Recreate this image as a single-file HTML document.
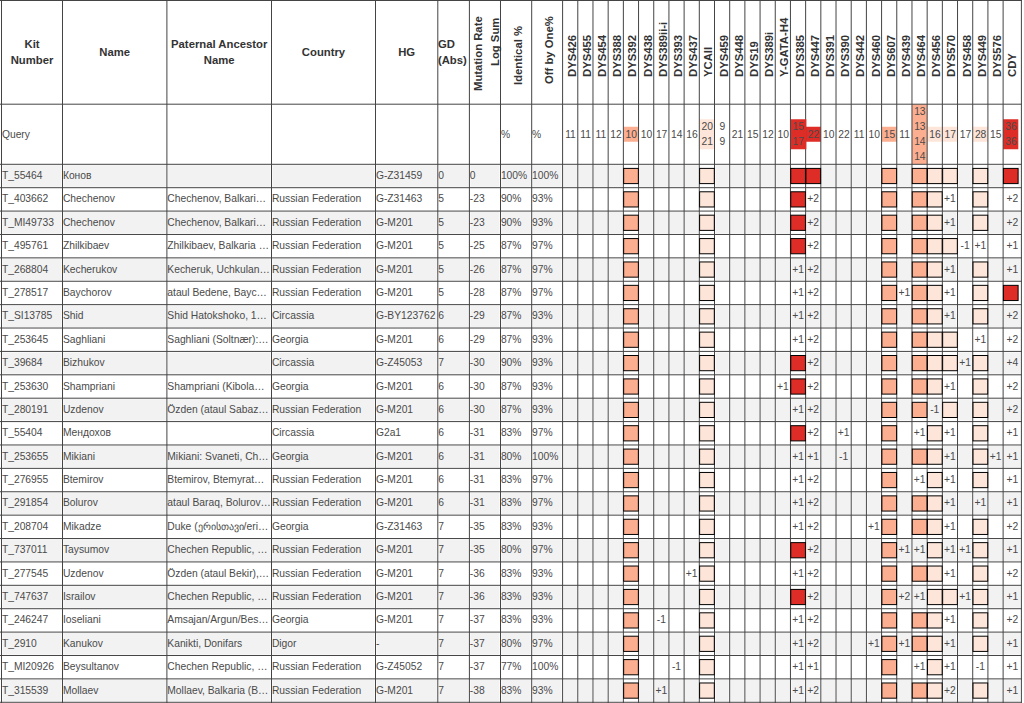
<!DOCTYPE html>
<html lang="en"><head><meta charset="utf-8"><title>Y-DNA STR match table</title>
<style>
html,body{margin:0;padding:0;background:#fff;}
body{width:1024px;height:703px;overflow:hidden;position:relative;font-family:"Liberation Sans",sans-serif;color:#333;}
svg{position:absolute;left:0;top:0;}
.c,.h,.r,.q{position:absolute;white-space:nowrap;}
.c{font-size:10.3px;overflow:visible;color:#4a4a4a;}
.b{text-align:left;}
.m{text-align:center;}
.q{font-size:10.3px;line-height:15.0px;text-align:center;color:#4a4a4a;}
.h{font-size:11.3px;line-height:16.5px;font-weight:bold;box-sizing:border-box;}
.r{font-size:11.3px;line-height:16.5px;height:16.5px;font-weight:bold;transform-origin:0 0;transform:rotate(-90deg);}
</style></head>
<body>
<svg width="1024" height="703" viewBox="0 0 1024 703">
<rect x="1.5" y="164.3" width="1019.9" height="23.39" fill="#f2f2f2"/>
<rect x="1.5" y="211.08" width="1019.9" height="23.39" fill="#f2f2f2"/>
<rect x="1.5" y="257.86" width="1019.9" height="23.39" fill="#f2f2f2"/>
<rect x="1.5" y="304.64" width="1019.9" height="23.39" fill="#f2f2f2"/>
<rect x="1.5" y="351.42" width="1019.9" height="23.39" fill="#f2f2f2"/>
<rect x="1.5" y="398.2" width="1019.9" height="23.39" fill="#f2f2f2"/>
<rect x="1.5" y="444.98" width="1019.9" height="23.39" fill="#f2f2f2"/>
<rect x="1.5" y="491.76" width="1019.9" height="23.39" fill="#f2f2f2"/>
<rect x="1.5" y="538.54" width="1019.9" height="23.39" fill="#f2f2f2"/>
<rect x="1.5" y="585.32" width="1019.9" height="23.39" fill="#f2f2f2"/>
<rect x="1.5" y="632.1" width="1019.9" height="23.39" fill="#f2f2f2"/>
<rect x="1.5" y="678.88" width="1019.9" height="23.39" fill="#f2f2f2"/>
<g stroke="#fff" stroke-width="2.0" fill="none">
<line x1="1.5" y1="164.3" x2="1.5" y2="703"/>
<line x1="62.5" y1="164.3" x2="62.5" y2="703"/>
<line x1="166.9" y1="164.3" x2="166.9" y2="703"/>
<line x1="271.5" y1="164.3" x2="271.5" y2="703"/>
<line x1="375.5" y1="164.3" x2="375.5" y2="703"/>
<line x1="437.8" y1="164.3" x2="437.8" y2="703"/>
<line x1="469.4" y1="164.3" x2="469.4" y2="703"/>
<line x1="500.5" y1="164.3" x2="500.5" y2="703"/>
<line x1="531.7" y1="164.3" x2="531.7" y2="703"/>
<line x1="562.6" y1="164.3" x2="562.6" y2="703"/>
<line x1="577.79" y1="164.3" x2="577.79" y2="703"/>
<line x1="592.98" y1="164.3" x2="592.98" y2="703"/>
<line x1="608.17" y1="164.3" x2="608.17" y2="703"/>
<line x1="623.36" y1="164.3" x2="623.36" y2="703"/>
<line x1="638.55" y1="164.3" x2="638.55" y2="703"/>
<line x1="653.74" y1="164.3" x2="653.74" y2="703"/>
<line x1="668.93" y1="164.3" x2="668.93" y2="703"/>
<line x1="684.12" y1="164.3" x2="684.12" y2="703"/>
<line x1="699.31" y1="164.3" x2="699.31" y2="703"/>
<line x1="714.5" y1="164.3" x2="714.5" y2="703"/>
<line x1="729.69" y1="164.3" x2="729.69" y2="703"/>
<line x1="744.88" y1="164.3" x2="744.88" y2="703"/>
<line x1="760.07" y1="164.3" x2="760.07" y2="703"/>
<line x1="775.26" y1="164.3" x2="775.26" y2="703"/>
<line x1="790.45" y1="164.3" x2="790.45" y2="703"/>
<line x1="805.64" y1="164.3" x2="805.64" y2="703"/>
<line x1="820.83" y1="164.3" x2="820.83" y2="703"/>
<line x1="836.02" y1="164.3" x2="836.02" y2="703"/>
<line x1="851.21" y1="164.3" x2="851.21" y2="703"/>
<line x1="866.4" y1="164.3" x2="866.4" y2="703"/>
<line x1="881.59" y1="164.3" x2="881.59" y2="703"/>
<line x1="896.78" y1="164.3" x2="896.78" y2="703"/>
<line x1="911.97" y1="164.3" x2="911.97" y2="703"/>
<line x1="927.16" y1="164.3" x2="927.16" y2="703"/>
<line x1="942.35" y1="164.3" x2="942.35" y2="703"/>
<line x1="957.54" y1="164.3" x2="957.54" y2="703"/>
<line x1="972.73" y1="164.3" x2="972.73" y2="703"/>
<line x1="987.92" y1="164.3" x2="987.92" y2="703"/>
<line x1="1003.11" y1="164.3" x2="1003.11" y2="703"/>
<line x1="1021.4" y1="164.3" x2="1021.4" y2="703"/>
<line x1="0" y1="164.3" x2="1021.9" y2="164.3"/>
<line x1="0" y1="187.69" x2="1021.9" y2="187.69"/>
<line x1="0" y1="211.08" x2="1021.9" y2="211.08"/>
<line x1="0" y1="234.47" x2="1021.9" y2="234.47"/>
<line x1="0" y1="257.86" x2="1021.9" y2="257.86"/>
<line x1="0" y1="281.25" x2="1021.9" y2="281.25"/>
<line x1="0" y1="304.64" x2="1021.9" y2="304.64"/>
<line x1="0" y1="328.03" x2="1021.9" y2="328.03"/>
<line x1="0" y1="351.42" x2="1021.9" y2="351.42"/>
<line x1="0" y1="374.81" x2="1021.9" y2="374.81"/>
<line x1="0" y1="398.2" x2="1021.9" y2="398.2"/>
<line x1="0" y1="421.59" x2="1021.9" y2="421.59"/>
<line x1="0" y1="444.98" x2="1021.9" y2="444.98"/>
<line x1="0" y1="468.37" x2="1021.9" y2="468.37"/>
<line x1="0" y1="491.76" x2="1021.9" y2="491.76"/>
<line x1="0" y1="515.15" x2="1021.9" y2="515.15"/>
<line x1="0" y1="538.54" x2="1021.9" y2="538.54"/>
<line x1="0" y1="561.93" x2="1021.9" y2="561.93"/>
<line x1="0" y1="585.32" x2="1021.9" y2="585.32"/>
<line x1="0" y1="608.71" x2="1021.9" y2="608.71"/>
<line x1="0" y1="632.1" x2="1021.9" y2="632.1"/>
<line x1="0" y1="655.49" x2="1021.9" y2="655.49"/>
<line x1="0" y1="678.88" x2="1021.9" y2="678.88"/>
<line x1="0" y1="702.27" x2="1021.9" y2="702.27"/>
</g>
<rect x="623.36" y="164.3" width="15.19" height="23.39" fill="#fff"/>
<rect x="699.31" y="164.3" width="15.19" height="23.39" fill="#fff"/>
<rect x="790.45" y="164.3" width="15.19" height="23.39" fill="#fff"/>
<rect x="805.64" y="164.3" width="15.19" height="23.39" fill="#fff"/>
<rect x="881.59" y="164.3" width="15.19" height="23.39" fill="#fff"/>
<rect x="911.97" y="164.3" width="15.19" height="23.39" fill="#fff"/>
<rect x="927.16" y="164.3" width="15.19" height="23.39" fill="#fff"/>
<rect x="942.35" y="164.3" width="15.19" height="23.39" fill="#fff"/>
<rect x="972.73" y="164.3" width="15.19" height="23.39" fill="#fff"/>
<rect x="1003.11" y="164.3" width="15.19" height="23.39" fill="#fff"/>
<rect x="623.36" y="187.69" width="15.19" height="23.39" fill="#fff"/>
<rect x="699.31" y="187.69" width="15.19" height="23.39" fill="#fff"/>
<rect x="790.45" y="187.69" width="15.19" height="23.39" fill="#fff"/>
<rect x="881.59" y="187.69" width="15.19" height="23.39" fill="#fff"/>
<rect x="911.97" y="187.69" width="15.19" height="23.39" fill="#fff"/>
<rect x="927.16" y="187.69" width="15.19" height="23.39" fill="#fff"/>
<rect x="972.73" y="187.69" width="15.19" height="23.39" fill="#fff"/>
<rect x="623.36" y="211.08" width="15.19" height="23.39" fill="#fff"/>
<rect x="699.31" y="211.08" width="15.19" height="23.39" fill="#fff"/>
<rect x="790.45" y="211.08" width="15.19" height="23.39" fill="#fff"/>
<rect x="881.59" y="211.08" width="15.19" height="23.39" fill="#fff"/>
<rect x="911.97" y="211.08" width="15.19" height="23.39" fill="#fff"/>
<rect x="927.16" y="211.08" width="15.19" height="23.39" fill="#fff"/>
<rect x="972.73" y="211.08" width="15.19" height="23.39" fill="#fff"/>
<rect x="623.36" y="234.47" width="15.19" height="23.39" fill="#fff"/>
<rect x="699.31" y="234.47" width="15.19" height="23.39" fill="#fff"/>
<rect x="790.45" y="234.47" width="15.19" height="23.39" fill="#fff"/>
<rect x="881.59" y="234.47" width="15.19" height="23.39" fill="#fff"/>
<rect x="911.97" y="234.47" width="15.19" height="23.39" fill="#fff"/>
<rect x="927.16" y="234.47" width="15.19" height="23.39" fill="#fff"/>
<rect x="942.35" y="234.47" width="15.19" height="23.39" fill="#fff"/>
<rect x="623.36" y="257.86" width="15.19" height="23.39" fill="#fff"/>
<rect x="699.31" y="257.86" width="15.19" height="23.39" fill="#fff"/>
<rect x="881.59" y="257.86" width="15.19" height="23.39" fill="#fff"/>
<rect x="911.97" y="257.86" width="15.19" height="23.39" fill="#fff"/>
<rect x="927.16" y="257.86" width="15.19" height="23.39" fill="#fff"/>
<rect x="972.73" y="257.86" width="15.19" height="23.39" fill="#fff"/>
<rect x="623.36" y="281.25" width="15.19" height="23.39" fill="#fff"/>
<rect x="699.31" y="281.25" width="15.19" height="23.39" fill="#fff"/>
<rect x="881.59" y="281.25" width="15.19" height="23.39" fill="#fff"/>
<rect x="911.97" y="281.25" width="15.19" height="23.39" fill="#fff"/>
<rect x="927.16" y="281.25" width="15.19" height="23.39" fill="#fff"/>
<rect x="972.73" y="281.25" width="15.19" height="23.39" fill="#fff"/>
<rect x="1003.11" y="281.25" width="15.19" height="23.39" fill="#fff"/>
<rect x="623.36" y="304.64" width="15.19" height="23.39" fill="#fff"/>
<rect x="699.31" y="304.64" width="15.19" height="23.39" fill="#fff"/>
<rect x="881.59" y="304.64" width="15.19" height="23.39" fill="#fff"/>
<rect x="911.97" y="304.64" width="15.19" height="23.39" fill="#fff"/>
<rect x="927.16" y="304.64" width="15.19" height="23.39" fill="#fff"/>
<rect x="972.73" y="304.64" width="15.19" height="23.39" fill="#fff"/>
<rect x="623.36" y="328.03" width="15.19" height="23.39" fill="#fff"/>
<rect x="699.31" y="328.03" width="15.19" height="23.39" fill="#fff"/>
<rect x="881.59" y="328.03" width="15.19" height="23.39" fill="#fff"/>
<rect x="911.97" y="328.03" width="15.19" height="23.39" fill="#fff"/>
<rect x="927.16" y="328.03" width="15.19" height="23.39" fill="#fff"/>
<rect x="942.35" y="328.03" width="15.19" height="23.39" fill="#fff"/>
<rect x="623.36" y="351.42" width="15.19" height="23.39" fill="#fff"/>
<rect x="699.31" y="351.42" width="15.19" height="23.39" fill="#fff"/>
<rect x="790.45" y="351.42" width="15.19" height="23.39" fill="#fff"/>
<rect x="881.59" y="351.42" width="15.19" height="23.39" fill="#fff"/>
<rect x="911.97" y="351.42" width="15.19" height="23.39" fill="#fff"/>
<rect x="927.16" y="351.42" width="15.19" height="23.39" fill="#fff"/>
<rect x="942.35" y="351.42" width="15.19" height="23.39" fill="#fff"/>
<rect x="972.73" y="351.42" width="15.19" height="23.39" fill="#fff"/>
<rect x="623.36" y="374.81" width="15.19" height="23.39" fill="#fff"/>
<rect x="699.31" y="374.81" width="15.19" height="23.39" fill="#fff"/>
<rect x="790.45" y="374.81" width="15.19" height="23.39" fill="#fff"/>
<rect x="881.59" y="374.81" width="15.19" height="23.39" fill="#fff"/>
<rect x="911.97" y="374.81" width="15.19" height="23.39" fill="#fff"/>
<rect x="927.16" y="374.81" width="15.19" height="23.39" fill="#fff"/>
<rect x="972.73" y="374.81" width="15.19" height="23.39" fill="#fff"/>
<rect x="623.36" y="398.2" width="15.19" height="23.39" fill="#fff"/>
<rect x="699.31" y="398.2" width="15.19" height="23.39" fill="#fff"/>
<rect x="881.59" y="398.2" width="15.19" height="23.39" fill="#fff"/>
<rect x="911.97" y="398.2" width="15.19" height="23.39" fill="#fff"/>
<rect x="942.35" y="398.2" width="15.19" height="23.39" fill="#fff"/>
<rect x="972.73" y="398.2" width="15.19" height="23.39" fill="#fff"/>
<rect x="623.36" y="421.59" width="15.19" height="23.39" fill="#fff"/>
<rect x="699.31" y="421.59" width="15.19" height="23.39" fill="#fff"/>
<rect x="790.45" y="421.59" width="15.19" height="23.39" fill="#fff"/>
<rect x="881.59" y="421.59" width="15.19" height="23.39" fill="#fff"/>
<rect x="927.16" y="421.59" width="15.19" height="23.39" fill="#fff"/>
<rect x="972.73" y="421.59" width="15.19" height="23.39" fill="#fff"/>
<rect x="623.36" y="444.98" width="15.19" height="23.39" fill="#fff"/>
<rect x="699.31" y="444.98" width="15.19" height="23.39" fill="#fff"/>
<rect x="881.59" y="444.98" width="15.19" height="23.39" fill="#fff"/>
<rect x="911.97" y="444.98" width="15.19" height="23.39" fill="#fff"/>
<rect x="927.16" y="444.98" width="15.19" height="23.39" fill="#fff"/>
<rect x="972.73" y="444.98" width="15.19" height="23.39" fill="#fff"/>
<rect x="623.36" y="468.37" width="15.19" height="23.39" fill="#fff"/>
<rect x="699.31" y="468.37" width="15.19" height="23.39" fill="#fff"/>
<rect x="881.59" y="468.37" width="15.19" height="23.39" fill="#fff"/>
<rect x="927.16" y="468.37" width="15.19" height="23.39" fill="#fff"/>
<rect x="972.73" y="468.37" width="15.19" height="23.39" fill="#fff"/>
<rect x="623.36" y="491.76" width="15.19" height="23.39" fill="#fff"/>
<rect x="699.31" y="491.76" width="15.19" height="23.39" fill="#fff"/>
<rect x="881.59" y="491.76" width="15.19" height="23.39" fill="#fff"/>
<rect x="911.97" y="491.76" width="15.19" height="23.39" fill="#fff"/>
<rect x="927.16" y="491.76" width="15.19" height="23.39" fill="#fff"/>
<rect x="623.36" y="515.15" width="15.19" height="23.39" fill="#fff"/>
<rect x="699.31" y="515.15" width="15.19" height="23.39" fill="#fff"/>
<rect x="881.59" y="515.15" width="15.19" height="23.39" fill="#fff"/>
<rect x="911.97" y="515.15" width="15.19" height="23.39" fill="#fff"/>
<rect x="927.16" y="515.15" width="15.19" height="23.39" fill="#fff"/>
<rect x="972.73" y="515.15" width="15.19" height="23.39" fill="#fff"/>
<rect x="623.36" y="538.54" width="15.19" height="23.39" fill="#fff"/>
<rect x="699.31" y="538.54" width="15.19" height="23.39" fill="#fff"/>
<rect x="790.45" y="538.54" width="15.19" height="23.39" fill="#fff"/>
<rect x="881.59" y="538.54" width="15.19" height="23.39" fill="#fff"/>
<rect x="927.16" y="538.54" width="15.19" height="23.39" fill="#fff"/>
<rect x="972.73" y="538.54" width="15.19" height="23.39" fill="#fff"/>
<rect x="623.36" y="561.93" width="15.19" height="23.39" fill="#fff"/>
<rect x="699.31" y="561.93" width="15.19" height="23.39" fill="#fff"/>
<rect x="881.59" y="561.93" width="15.19" height="23.39" fill="#fff"/>
<rect x="911.97" y="561.93" width="15.19" height="23.39" fill="#fff"/>
<rect x="927.16" y="561.93" width="15.19" height="23.39" fill="#fff"/>
<rect x="972.73" y="561.93" width="15.19" height="23.39" fill="#fff"/>
<rect x="623.36" y="585.32" width="15.19" height="23.39" fill="#fff"/>
<rect x="699.31" y="585.32" width="15.19" height="23.39" fill="#fff"/>
<rect x="790.45" y="585.32" width="15.19" height="23.39" fill="#fff"/>
<rect x="881.59" y="585.32" width="15.19" height="23.39" fill="#fff"/>
<rect x="927.16" y="585.32" width="15.19" height="23.39" fill="#fff"/>
<rect x="942.35" y="585.32" width="15.19" height="23.39" fill="#fff"/>
<rect x="972.73" y="585.32" width="15.19" height="23.39" fill="#fff"/>
<rect x="623.36" y="608.71" width="15.19" height="23.39" fill="#fff"/>
<rect x="699.31" y="608.71" width="15.19" height="23.39" fill="#fff"/>
<rect x="881.59" y="608.71" width="15.19" height="23.39" fill="#fff"/>
<rect x="911.97" y="608.71" width="15.19" height="23.39" fill="#fff"/>
<rect x="927.16" y="608.71" width="15.19" height="23.39" fill="#fff"/>
<rect x="972.73" y="608.71" width="15.19" height="23.39" fill="#fff"/>
<rect x="623.36" y="632.1" width="15.19" height="23.39" fill="#fff"/>
<rect x="699.31" y="632.1" width="15.19" height="23.39" fill="#fff"/>
<rect x="881.59" y="632.1" width="15.19" height="23.39" fill="#fff"/>
<rect x="911.97" y="632.1" width="15.19" height="23.39" fill="#fff"/>
<rect x="927.16" y="632.1" width="15.19" height="23.39" fill="#fff"/>
<rect x="972.73" y="632.1" width="15.19" height="23.39" fill="#fff"/>
<rect x="623.36" y="655.49" width="15.19" height="23.39" fill="#fff"/>
<rect x="699.31" y="655.49" width="15.19" height="23.39" fill="#fff"/>
<rect x="881.59" y="655.49" width="15.19" height="23.39" fill="#fff"/>
<rect x="927.16" y="655.49" width="15.19" height="23.39" fill="#fff"/>
<rect x="623.36" y="678.88" width="15.19" height="23.39" fill="#fff"/>
<rect x="699.31" y="678.88" width="15.19" height="23.39" fill="#fff"/>
<rect x="881.59" y="678.88" width="15.19" height="23.39" fill="#fff"/>
<rect x="911.97" y="678.88" width="15.19" height="23.39" fill="#fff"/>
<rect x="927.16" y="678.88" width="15.19" height="23.39" fill="#fff"/>
<rect x="972.73" y="678.88" width="15.19" height="23.39" fill="#fff"/>
<rect x="623.36" y="126.75" width="15.19" height="15" fill="#fcae91"/>
<rect x="699.31" y="119.25" width="15.19" height="30" fill="#fee5d9"/>
<rect x="790.45" y="119.25" width="15.19" height="30" fill="#de2d26"/>
<rect x="805.64" y="126.75" width="15.19" height="15" fill="#de2d26"/>
<rect x="881.59" y="126.75" width="15.19" height="15" fill="#fcae91"/>
<rect x="911.97" y="104.25" width="15.19" height="60" fill="#fcae91"/>
<rect x="927.16" y="126.75" width="15.19" height="15" fill="#fee5d9"/>
<rect x="942.35" y="126.75" width="15.19" height="15" fill="#fee5d9"/>
<rect x="972.73" y="126.75" width="15.19" height="15" fill="#fee5d9"/>
<rect x="1003.11" y="119.25" width="15.19" height="30" fill="#de2d26"/>
<g stroke="#444" stroke-width="1" fill="none">
<line x1="1.5" y1="0" x2="1.5" y2="703"/>
<line x1="62.5" y1="0" x2="62.5" y2="703"/>
<line x1="166.9" y1="0" x2="166.9" y2="703"/>
<line x1="271.5" y1="0" x2="271.5" y2="703"/>
<line x1="375.5" y1="0" x2="375.5" y2="703"/>
<line x1="437.8" y1="0" x2="437.8" y2="703"/>
<line x1="469.4" y1="0" x2="469.4" y2="703"/>
<line x1="500.5" y1="0" x2="500.5" y2="703"/>
<line x1="531.7" y1="0" x2="531.7" y2="703"/>
<line x1="562.6" y1="0" x2="562.6" y2="703"/>
<line x1="577.79" y1="0" x2="577.79" y2="703"/>
<line x1="592.98" y1="0" x2="592.98" y2="703"/>
<line x1="608.17" y1="0" x2="608.17" y2="703"/>
<line x1="623.36" y1="0" x2="623.36" y2="703"/>
<line x1="638.55" y1="0" x2="638.55" y2="703"/>
<line x1="653.74" y1="0" x2="653.74" y2="703"/>
<line x1="668.93" y1="0" x2="668.93" y2="703"/>
<line x1="684.12" y1="0" x2="684.12" y2="703"/>
<line x1="699.31" y1="0" x2="699.31" y2="703"/>
<line x1="714.5" y1="0" x2="714.5" y2="703"/>
<line x1="729.69" y1="0" x2="729.69" y2="703"/>
<line x1="744.88" y1="0" x2="744.88" y2="703"/>
<line x1="760.07" y1="0" x2="760.07" y2="703"/>
<line x1="775.26" y1="0" x2="775.26" y2="703"/>
<line x1="790.45" y1="0" x2="790.45" y2="703"/>
<line x1="805.64" y1="0" x2="805.64" y2="703"/>
<line x1="820.83" y1="0" x2="820.83" y2="703"/>
<line x1="836.02" y1="0" x2="836.02" y2="703"/>
<line x1="851.21" y1="0" x2="851.21" y2="703"/>
<line x1="866.4" y1="0" x2="866.4" y2="703"/>
<line x1="881.59" y1="0" x2="881.59" y2="703"/>
<line x1="896.78" y1="0" x2="896.78" y2="703"/>
<line x1="911.97" y1="0" x2="911.97" y2="703"/>
<line x1="927.16" y1="0" x2="927.16" y2="703"/>
<line x1="942.35" y1="0" x2="942.35" y2="703"/>
<line x1="957.54" y1="0" x2="957.54" y2="703"/>
<line x1="972.73" y1="0" x2="972.73" y2="703"/>
<line x1="987.92" y1="0" x2="987.92" y2="703"/>
<line x1="1003.11" y1="0" x2="1003.11" y2="703"/>
<line x1="1021.4" y1="0" x2="1021.4" y2="703"/>
<line x1="0" y1="0.5" x2="1021.9" y2="0.5"/>
<line x1="0" y1="104.2" x2="1021.9" y2="104.2"/>
<line x1="0" y1="164.3" x2="1021.9" y2="164.3"/>
<line x1="0" y1="187.69" x2="1021.9" y2="187.69"/>
<line x1="0" y1="211.08" x2="1021.9" y2="211.08"/>
<line x1="0" y1="234.47" x2="1021.9" y2="234.47"/>
<line x1="0" y1="257.86" x2="1021.9" y2="257.86"/>
<line x1="0" y1="281.25" x2="1021.9" y2="281.25"/>
<line x1="0" y1="304.64" x2="1021.9" y2="304.64"/>
<line x1="0" y1="328.03" x2="1021.9" y2="328.03"/>
<line x1="0" y1="351.42" x2="1021.9" y2="351.42"/>
<line x1="0" y1="374.81" x2="1021.9" y2="374.81"/>
<line x1="0" y1="398.2" x2="1021.9" y2="398.2"/>
<line x1="0" y1="421.59" x2="1021.9" y2="421.59"/>
<line x1="0" y1="444.98" x2="1021.9" y2="444.98"/>
<line x1="0" y1="468.37" x2="1021.9" y2="468.37"/>
<line x1="0" y1="491.76" x2="1021.9" y2="491.76"/>
<line x1="0" y1="515.15" x2="1021.9" y2="515.15"/>
<line x1="0" y1="538.54" x2="1021.9" y2="538.54"/>
<line x1="0" y1="561.93" x2="1021.9" y2="561.93"/>
<line x1="0" y1="585.32" x2="1021.9" y2="585.32"/>
<line x1="0" y1="608.71" x2="1021.9" y2="608.71"/>
<line x1="0" y1="632.1" x2="1021.9" y2="632.1"/>
<line x1="0" y1="655.49" x2="1021.9" y2="655.49"/>
<line x1="0" y1="678.88" x2="1021.9" y2="678.88"/>
<line x1="0" y1="702.27" x2="1021.9" y2="702.27"/>
</g>
<rect x="804.94" y="119.25" width="1.4" height="30" fill="#de2d26"/>
<rect x="623.66" y="168.4" width="14.69" height="15.2" fill="#fcae91" stroke="#000" stroke-width="1"/>
<rect x="699.61" y="168.4" width="14.69" height="15.2" fill="#fee5d9" stroke="#000" stroke-width="1"/>
<rect x="790.75" y="168.4" width="14.69" height="15.2" fill="#de2d26" stroke="#000" stroke-width="1"/>
<rect x="805.94" y="168.4" width="14.69" height="15.2" fill="#de2d26" stroke="#000" stroke-width="1"/>
<rect x="881.89" y="168.4" width="14.69" height="15.2" fill="#fcae91" stroke="#000" stroke-width="1"/>
<rect x="912.27" y="168.4" width="14.69" height="15.2" fill="#fcae91" stroke="#000" stroke-width="1"/>
<rect x="927.46" y="168.4" width="14.69" height="15.2" fill="#fee5d9" stroke="#000" stroke-width="1"/>
<rect x="942.65" y="168.4" width="14.69" height="15.2" fill="#fee5d9" stroke="#000" stroke-width="1"/>
<rect x="973.03" y="168.4" width="14.69" height="15.2" fill="#fee5d9" stroke="#000" stroke-width="1"/>
<rect x="1003.41" y="168.4" width="14.69" height="15.2" fill="#de2d26" stroke="#000" stroke-width="1"/>
<rect x="623.66" y="191.78" width="14.69" height="15.2" fill="#fcae91" stroke="#000" stroke-width="1"/>
<rect x="699.61" y="191.78" width="14.69" height="15.2" fill="#fee5d9" stroke="#000" stroke-width="1"/>
<rect x="790.75" y="191.78" width="14.69" height="15.2" fill="#de2d26" stroke="#000" stroke-width="1"/>
<rect x="881.89" y="191.78" width="14.69" height="15.2" fill="#fcae91" stroke="#000" stroke-width="1"/>
<rect x="912.27" y="191.78" width="14.69" height="15.2" fill="#fcae91" stroke="#000" stroke-width="1"/>
<rect x="927.46" y="191.78" width="14.69" height="15.2" fill="#fee5d9" stroke="#000" stroke-width="1"/>
<rect x="973.03" y="191.78" width="14.69" height="15.2" fill="#fee5d9" stroke="#000" stroke-width="1"/>
<rect x="623.66" y="215.18" width="14.69" height="15.2" fill="#fcae91" stroke="#000" stroke-width="1"/>
<rect x="699.61" y="215.18" width="14.69" height="15.2" fill="#fee5d9" stroke="#000" stroke-width="1"/>
<rect x="790.75" y="215.18" width="14.69" height="15.2" fill="#de2d26" stroke="#000" stroke-width="1"/>
<rect x="881.89" y="215.18" width="14.69" height="15.2" fill="#fcae91" stroke="#000" stroke-width="1"/>
<rect x="912.27" y="215.18" width="14.69" height="15.2" fill="#fcae91" stroke="#000" stroke-width="1"/>
<rect x="927.46" y="215.18" width="14.69" height="15.2" fill="#fee5d9" stroke="#000" stroke-width="1"/>
<rect x="973.03" y="215.18" width="14.69" height="15.2" fill="#fee5d9" stroke="#000" stroke-width="1"/>
<rect x="623.66" y="238.57" width="14.69" height="15.2" fill="#fcae91" stroke="#000" stroke-width="1"/>
<rect x="699.61" y="238.57" width="14.69" height="15.2" fill="#fee5d9" stroke="#000" stroke-width="1"/>
<rect x="790.75" y="238.57" width="14.69" height="15.2" fill="#de2d26" stroke="#000" stroke-width="1"/>
<rect x="881.89" y="238.57" width="14.69" height="15.2" fill="#fcae91" stroke="#000" stroke-width="1"/>
<rect x="912.27" y="238.57" width="14.69" height="15.2" fill="#fcae91" stroke="#000" stroke-width="1"/>
<rect x="927.46" y="238.57" width="14.69" height="15.2" fill="#fee5d9" stroke="#000" stroke-width="1"/>
<rect x="942.65" y="238.57" width="14.69" height="15.2" fill="#fee5d9" stroke="#000" stroke-width="1"/>
<rect x="623.66" y="261.95" width="14.69" height="15.2" fill="#fcae91" stroke="#000" stroke-width="1"/>
<rect x="699.61" y="261.95" width="14.69" height="15.2" fill="#fee5d9" stroke="#000" stroke-width="1"/>
<rect x="881.89" y="261.95" width="14.69" height="15.2" fill="#fcae91" stroke="#000" stroke-width="1"/>
<rect x="912.27" y="261.95" width="14.69" height="15.2" fill="#fcae91" stroke="#000" stroke-width="1"/>
<rect x="927.46" y="261.95" width="14.69" height="15.2" fill="#fee5d9" stroke="#000" stroke-width="1"/>
<rect x="973.03" y="261.95" width="14.69" height="15.2" fill="#fee5d9" stroke="#000" stroke-width="1"/>
<rect x="623.66" y="285.34" width="14.69" height="15.2" fill="#fcae91" stroke="#000" stroke-width="1"/>
<rect x="699.61" y="285.34" width="14.69" height="15.2" fill="#fee5d9" stroke="#000" stroke-width="1"/>
<rect x="881.89" y="285.34" width="14.69" height="15.2" fill="#fcae91" stroke="#000" stroke-width="1"/>
<rect x="912.27" y="285.34" width="14.69" height="15.2" fill="#fcae91" stroke="#000" stroke-width="1"/>
<rect x="927.46" y="285.34" width="14.69" height="15.2" fill="#fee5d9" stroke="#000" stroke-width="1"/>
<rect x="973.03" y="285.34" width="14.69" height="15.2" fill="#fee5d9" stroke="#000" stroke-width="1"/>
<rect x="1003.41" y="285.34" width="14.69" height="15.2" fill="#de2d26" stroke="#000" stroke-width="1"/>
<rect x="623.66" y="308.73" width="14.69" height="15.2" fill="#fcae91" stroke="#000" stroke-width="1"/>
<rect x="699.61" y="308.73" width="14.69" height="15.2" fill="#fee5d9" stroke="#000" stroke-width="1"/>
<rect x="881.89" y="308.73" width="14.69" height="15.2" fill="#fcae91" stroke="#000" stroke-width="1"/>
<rect x="912.27" y="308.73" width="14.69" height="15.2" fill="#fcae91" stroke="#000" stroke-width="1"/>
<rect x="927.46" y="308.73" width="14.69" height="15.2" fill="#fee5d9" stroke="#000" stroke-width="1"/>
<rect x="973.03" y="308.73" width="14.69" height="15.2" fill="#fee5d9" stroke="#000" stroke-width="1"/>
<rect x="623.66" y="332.12" width="14.69" height="15.2" fill="#fcae91" stroke="#000" stroke-width="1"/>
<rect x="699.61" y="332.12" width="14.69" height="15.2" fill="#fee5d9" stroke="#000" stroke-width="1"/>
<rect x="881.89" y="332.12" width="14.69" height="15.2" fill="#fcae91" stroke="#000" stroke-width="1"/>
<rect x="912.27" y="332.12" width="14.69" height="15.2" fill="#fcae91" stroke="#000" stroke-width="1"/>
<rect x="927.46" y="332.12" width="14.69" height="15.2" fill="#fee5d9" stroke="#000" stroke-width="1"/>
<rect x="942.65" y="332.12" width="14.69" height="15.2" fill="#fee5d9" stroke="#000" stroke-width="1"/>
<rect x="623.66" y="355.51" width="14.69" height="15.2" fill="#fcae91" stroke="#000" stroke-width="1"/>
<rect x="699.61" y="355.51" width="14.69" height="15.2" fill="#fee5d9" stroke="#000" stroke-width="1"/>
<rect x="790.75" y="355.51" width="14.69" height="15.2" fill="#de2d26" stroke="#000" stroke-width="1"/>
<rect x="881.89" y="355.51" width="14.69" height="15.2" fill="#fcae91" stroke="#000" stroke-width="1"/>
<rect x="912.27" y="355.51" width="14.69" height="15.2" fill="#fcae91" stroke="#000" stroke-width="1"/>
<rect x="927.46" y="355.51" width="14.69" height="15.2" fill="#fee5d9" stroke="#000" stroke-width="1"/>
<rect x="942.65" y="355.51" width="14.69" height="15.2" fill="#fee5d9" stroke="#000" stroke-width="1"/>
<rect x="973.03" y="355.51" width="14.69" height="15.2" fill="#fee5d9" stroke="#000" stroke-width="1"/>
<rect x="623.66" y="378.9" width="14.69" height="15.2" fill="#fcae91" stroke="#000" stroke-width="1"/>
<rect x="699.61" y="378.9" width="14.69" height="15.2" fill="#fee5d9" stroke="#000" stroke-width="1"/>
<rect x="790.75" y="378.9" width="14.69" height="15.2" fill="#de2d26" stroke="#000" stroke-width="1"/>
<rect x="881.89" y="378.9" width="14.69" height="15.2" fill="#fcae91" stroke="#000" stroke-width="1"/>
<rect x="912.27" y="378.9" width="14.69" height="15.2" fill="#fcae91" stroke="#000" stroke-width="1"/>
<rect x="927.46" y="378.9" width="14.69" height="15.2" fill="#fee5d9" stroke="#000" stroke-width="1"/>
<rect x="973.03" y="378.9" width="14.69" height="15.2" fill="#fee5d9" stroke="#000" stroke-width="1"/>
<rect x="623.66" y="402.3" width="14.69" height="15.2" fill="#fcae91" stroke="#000" stroke-width="1"/>
<rect x="699.61" y="402.3" width="14.69" height="15.2" fill="#fee5d9" stroke="#000" stroke-width="1"/>
<rect x="881.89" y="402.3" width="14.69" height="15.2" fill="#fcae91" stroke="#000" stroke-width="1"/>
<rect x="912.27" y="402.3" width="14.69" height="15.2" fill="#fcae91" stroke="#000" stroke-width="1"/>
<rect x="942.65" y="402.3" width="14.69" height="15.2" fill="#fee5d9" stroke="#000" stroke-width="1"/>
<rect x="973.03" y="402.3" width="14.69" height="15.2" fill="#fee5d9" stroke="#000" stroke-width="1"/>
<rect x="623.66" y="425.69" width="14.69" height="15.2" fill="#fcae91" stroke="#000" stroke-width="1"/>
<rect x="699.61" y="425.69" width="14.69" height="15.2" fill="#fee5d9" stroke="#000" stroke-width="1"/>
<rect x="790.75" y="425.69" width="14.69" height="15.2" fill="#de2d26" stroke="#000" stroke-width="1"/>
<rect x="881.89" y="425.69" width="14.69" height="15.2" fill="#fcae91" stroke="#000" stroke-width="1"/>
<rect x="927.46" y="425.69" width="14.69" height="15.2" fill="#fee5d9" stroke="#000" stroke-width="1"/>
<rect x="973.03" y="425.69" width="14.69" height="15.2" fill="#fee5d9" stroke="#000" stroke-width="1"/>
<rect x="623.66" y="449.07" width="14.69" height="15.2" fill="#fcae91" stroke="#000" stroke-width="1"/>
<rect x="699.61" y="449.07" width="14.69" height="15.2" fill="#fee5d9" stroke="#000" stroke-width="1"/>
<rect x="881.89" y="449.07" width="14.69" height="15.2" fill="#fcae91" stroke="#000" stroke-width="1"/>
<rect x="912.27" y="449.07" width="14.69" height="15.2" fill="#fcae91" stroke="#000" stroke-width="1"/>
<rect x="927.46" y="449.07" width="14.69" height="15.2" fill="#fee5d9" stroke="#000" stroke-width="1"/>
<rect x="973.03" y="449.07" width="14.69" height="15.2" fill="#fee5d9" stroke="#000" stroke-width="1"/>
<rect x="623.66" y="472.46" width="14.69" height="15.2" fill="#fcae91" stroke="#000" stroke-width="1"/>
<rect x="699.61" y="472.46" width="14.69" height="15.2" fill="#fee5d9" stroke="#000" stroke-width="1"/>
<rect x="881.89" y="472.46" width="14.69" height="15.2" fill="#fcae91" stroke="#000" stroke-width="1"/>
<rect x="927.46" y="472.46" width="14.69" height="15.2" fill="#fee5d9" stroke="#000" stroke-width="1"/>
<rect x="973.03" y="472.46" width="14.69" height="15.2" fill="#fee5d9" stroke="#000" stroke-width="1"/>
<rect x="623.66" y="495.86" width="14.69" height="15.2" fill="#fcae91" stroke="#000" stroke-width="1"/>
<rect x="699.61" y="495.86" width="14.69" height="15.2" fill="#fee5d9" stroke="#000" stroke-width="1"/>
<rect x="881.89" y="495.86" width="14.69" height="15.2" fill="#fcae91" stroke="#000" stroke-width="1"/>
<rect x="912.27" y="495.86" width="14.69" height="15.2" fill="#fcae91" stroke="#000" stroke-width="1"/>
<rect x="927.46" y="495.86" width="14.69" height="15.2" fill="#fee5d9" stroke="#000" stroke-width="1"/>
<rect x="623.66" y="519.25" width="14.69" height="15.2" fill="#fcae91" stroke="#000" stroke-width="1"/>
<rect x="699.61" y="519.25" width="14.69" height="15.2" fill="#fee5d9" stroke="#000" stroke-width="1"/>
<rect x="881.89" y="519.25" width="14.69" height="15.2" fill="#fcae91" stroke="#000" stroke-width="1"/>
<rect x="912.27" y="519.25" width="14.69" height="15.2" fill="#fcae91" stroke="#000" stroke-width="1"/>
<rect x="927.46" y="519.25" width="14.69" height="15.2" fill="#fee5d9" stroke="#000" stroke-width="1"/>
<rect x="973.03" y="519.25" width="14.69" height="15.2" fill="#fee5d9" stroke="#000" stroke-width="1"/>
<rect x="623.66" y="542.63" width="14.69" height="15.2" fill="#fcae91" stroke="#000" stroke-width="1"/>
<rect x="699.61" y="542.63" width="14.69" height="15.2" fill="#fee5d9" stroke="#000" stroke-width="1"/>
<rect x="790.75" y="542.63" width="14.69" height="15.2" fill="#de2d26" stroke="#000" stroke-width="1"/>
<rect x="881.89" y="542.63" width="14.69" height="15.2" fill="#fcae91" stroke="#000" stroke-width="1"/>
<rect x="927.46" y="542.63" width="14.69" height="15.2" fill="#fee5d9" stroke="#000" stroke-width="1"/>
<rect x="973.03" y="542.63" width="14.69" height="15.2" fill="#fee5d9" stroke="#000" stroke-width="1"/>
<rect x="623.66" y="566.03" width="14.69" height="15.2" fill="#fcae91" stroke="#000" stroke-width="1"/>
<rect x="699.61" y="566.03" width="14.69" height="15.2" fill="#fee5d9" stroke="#000" stroke-width="1"/>
<rect x="881.89" y="566.03" width="14.69" height="15.2" fill="#fcae91" stroke="#000" stroke-width="1"/>
<rect x="912.27" y="566.03" width="14.69" height="15.2" fill="#fcae91" stroke="#000" stroke-width="1"/>
<rect x="927.46" y="566.03" width="14.69" height="15.2" fill="#fee5d9" stroke="#000" stroke-width="1"/>
<rect x="973.03" y="566.03" width="14.69" height="15.2" fill="#fee5d9" stroke="#000" stroke-width="1"/>
<rect x="623.66" y="589.41" width="14.69" height="15.2" fill="#fcae91" stroke="#000" stroke-width="1"/>
<rect x="699.61" y="589.41" width="14.69" height="15.2" fill="#fee5d9" stroke="#000" stroke-width="1"/>
<rect x="790.75" y="589.41" width="14.69" height="15.2" fill="#de2d26" stroke="#000" stroke-width="1"/>
<rect x="881.89" y="589.41" width="14.69" height="15.2" fill="#fcae91" stroke="#000" stroke-width="1"/>
<rect x="927.46" y="589.41" width="14.69" height="15.2" fill="#fee5d9" stroke="#000" stroke-width="1"/>
<rect x="942.65" y="589.41" width="14.69" height="15.2" fill="#fee5d9" stroke="#000" stroke-width="1"/>
<rect x="973.03" y="589.41" width="14.69" height="15.2" fill="#fee5d9" stroke="#000" stroke-width="1"/>
<rect x="623.66" y="612.81" width="14.69" height="15.2" fill="#fcae91" stroke="#000" stroke-width="1"/>
<rect x="699.61" y="612.81" width="14.69" height="15.2" fill="#fee5d9" stroke="#000" stroke-width="1"/>
<rect x="881.89" y="612.81" width="14.69" height="15.2" fill="#fcae91" stroke="#000" stroke-width="1"/>
<rect x="912.27" y="612.81" width="14.69" height="15.2" fill="#fcae91" stroke="#000" stroke-width="1"/>
<rect x="927.46" y="612.81" width="14.69" height="15.2" fill="#fee5d9" stroke="#000" stroke-width="1"/>
<rect x="973.03" y="612.81" width="14.69" height="15.2" fill="#fee5d9" stroke="#000" stroke-width="1"/>
<rect x="623.66" y="636.2" width="14.69" height="15.2" fill="#fcae91" stroke="#000" stroke-width="1"/>
<rect x="699.61" y="636.2" width="14.69" height="15.2" fill="#fee5d9" stroke="#000" stroke-width="1"/>
<rect x="881.89" y="636.2" width="14.69" height="15.2" fill="#fcae91" stroke="#000" stroke-width="1"/>
<rect x="912.27" y="636.2" width="14.69" height="15.2" fill="#fcae91" stroke="#000" stroke-width="1"/>
<rect x="927.46" y="636.2" width="14.69" height="15.2" fill="#fee5d9" stroke="#000" stroke-width="1"/>
<rect x="973.03" y="636.2" width="14.69" height="15.2" fill="#fee5d9" stroke="#000" stroke-width="1"/>
<rect x="623.66" y="659.59" width="14.69" height="15.2" fill="#fcae91" stroke="#000" stroke-width="1"/>
<rect x="699.61" y="659.59" width="14.69" height="15.2" fill="#fee5d9" stroke="#000" stroke-width="1"/>
<rect x="881.89" y="659.59" width="14.69" height="15.2" fill="#fcae91" stroke="#000" stroke-width="1"/>
<rect x="927.46" y="659.59" width="14.69" height="15.2" fill="#fee5d9" stroke="#000" stroke-width="1"/>
<rect x="623.66" y="682.98" width="14.69" height="15.2" fill="#fcae91" stroke="#000" stroke-width="1"/>
<rect x="699.61" y="682.98" width="14.69" height="15.2" fill="#fee5d9" stroke="#000" stroke-width="1"/>
<rect x="881.89" y="682.98" width="14.69" height="15.2" fill="#fcae91" stroke="#000" stroke-width="1"/>
<rect x="912.27" y="682.98" width="14.69" height="15.2" fill="#fcae91" stroke="#000" stroke-width="1"/>
<rect x="927.46" y="682.98" width="14.69" height="15.2" fill="#fee5d9" stroke="#000" stroke-width="1"/>
<rect x="973.03" y="682.98" width="14.69" height="15.2" fill="#fee5d9" stroke="#000" stroke-width="1"/>
</svg>
<div class="h" style="left:1.5px;top:35.75px;width:61px;text-align:center;">Kit<br>Number</div>
<div class="h" style="left:62.5px;top:44px;width:104.4px;text-align:center;">Name</div>
<div class="h" style="left:166.9px;top:35.75px;width:104.6px;text-align:center;">Paternal Ancestor<br>Name</div>
<div class="h" style="left:271.5px;top:44px;width:104px;text-align:center;">Country</div>
<div class="h" style="left:375.5px;top:44px;width:62.3px;text-align:center;">HG</div>
<div class="h" style="left:437.8px;top:35.75px;width:31.6px;text-align:left;padding-left:0.10000000000000003px;">GD<br>(Abs)</div>
<div class="r" style="left:470.13px;top:91.2px">Mutation Rate</div>
<div class="r" style="left:486.83px;top:66.1px">Log Sum</div>
<div class="r" style="left:510.03px;top:85.1px">Identical %</div>
<div class="r" style="left:541.13px;top:83.9px">Off by One%</div>
<div class="r" style="left:563.73px;top:77.1px">DYS426</div>
<div class="r" style="left:578.92px;top:77.1px">DYS455</div>
<div class="r" style="left:594.11px;top:77.1px">DYS454</div>
<div class="r" style="left:609.3px;top:77.1px">DYS388</div>
<div class="r" style="left:624.49px;top:77.1px">DYS392</div>
<div class="r" style="left:639.68px;top:77.1px">DYS438</div>
<div class="r" style="left:654.87px;top:77.1px">DYS389ii-i</div>
<div class="r" style="left:670.06px;top:77.1px">DYS393</div>
<div class="r" style="left:685.25px;top:77.1px">DYS437</div>
<div class="r" style="left:700.44px;top:77.1px">YCAII</div>
<div class="r" style="left:715.63px;top:77.1px">DYS459</div>
<div class="r" style="left:730.82px;top:77.1px">DYS448</div>
<div class="r" style="left:746.01px;top:77.1px">DYS19</div>
<div class="r" style="left:761.2px;top:77.1px">DYS389i</div>
<div class="r" style="left:776.39px;top:77.1px">Y-GATA-H4</div>
<div class="r" style="left:791.58px;top:77.1px">DYS385</div>
<div class="r" style="left:806.77px;top:77.1px">DYS447</div>
<div class="r" style="left:821.96px;top:77.1px">DYS391</div>
<div class="r" style="left:837.15px;top:77.1px">DYS390</div>
<div class="r" style="left:852.34px;top:77.1px">DYS442</div>
<div class="r" style="left:867.53px;top:77.1px">DYS460</div>
<div class="r" style="left:882.72px;top:77.1px">DYS607</div>
<div class="r" style="left:897.91px;top:77.1px">DYS439</div>
<div class="r" style="left:913.1px;top:77.1px">DYS464</div>
<div class="r" style="left:928.29px;top:77.1px">DYS456</div>
<div class="r" style="left:943.48px;top:77.1px">DYS570</div>
<div class="r" style="left:958.67px;top:77.1px">DYS458</div>
<div class="r" style="left:973.86px;top:77.1px">DYS449</div>
<div class="r" style="left:989.05px;top:77.1px">DYS576</div>
<div class="r" style="left:1004.24px;top:77.1px">CDY</div>
<div class="c b" style="left:1.9px;top:104.8px;width:60px;height:60.1px;line-height:60.1px;">Query</div>
<div class="c b" style="left:500.9px;top:104.8px;width:30px;height:60.1px;line-height:60.1px;">%</div>
<div class="c b" style="left:532.1px;top:104.8px;width:30px;height:60.1px;line-height:60.1px;">%</div>
<div class="q" style="left:562.9px;top:126.75px;width:15.19px">11</div>
<div class="q" style="left:578.09px;top:126.75px;width:15.19px">11</div>
<div class="q" style="left:593.28px;top:126.75px;width:15.19px">11</div>
<div class="q" style="left:608.47px;top:126.75px;width:15.19px">12</div>
<div class="q" style="left:623.66px;top:126.75px;width:15.19px">10</div>
<div class="q" style="left:638.85px;top:126.75px;width:15.19px">10</div>
<div class="q" style="left:654.04px;top:126.75px;width:15.19px">17</div>
<div class="q" style="left:669.23px;top:126.75px;width:15.19px">14</div>
<div class="q" style="left:684.42px;top:126.75px;width:15.19px">16</div>
<div class="q" style="left:699.61px;top:119.25px;width:15.19px">20<br>21</div>
<div class="q" style="left:714.8px;top:119.25px;width:15.19px">9<br>9</div>
<div class="q" style="left:729.99px;top:126.75px;width:15.19px">21</div>
<div class="q" style="left:745.18px;top:126.75px;width:15.19px">15</div>
<div class="q" style="left:760.37px;top:126.75px;width:15.19px">12</div>
<div class="q" style="left:775.56px;top:126.75px;width:15.19px">10</div>
<div class="q" style="left:790.75px;top:119.25px;width:15.19px">15<br>17</div>
<div class="q" style="left:805.94px;top:126.75px;width:15.19px">22</div>
<div class="q" style="left:821.13px;top:126.75px;width:15.19px">10</div>
<div class="q" style="left:836.32px;top:126.75px;width:15.19px">22</div>
<div class="q" style="left:851.51px;top:126.75px;width:15.19px">11</div>
<div class="q" style="left:866.7px;top:126.75px;width:15.19px">10</div>
<div class="q" style="left:881.89px;top:126.75px;width:15.19px">15</div>
<div class="q" style="left:897.08px;top:126.75px;width:15.19px">11</div>
<div class="q" style="left:912.27px;top:104.25px;width:15.19px">13<br>13<br>14<br>14</div>
<div class="q" style="left:927.46px;top:126.75px;width:15.19px">16</div>
<div class="q" style="left:942.65px;top:126.75px;width:15.19px">17</div>
<div class="q" style="left:957.84px;top:126.75px;width:15.19px">17</div>
<div class="q" style="left:973.03px;top:126.75px;width:15.19px">28</div>
<div class="q" style="left:988.22px;top:126.75px;width:15.19px">15</div>
<div class="q" style="left:1003.41px;top:119.25px;width:15.19px">36<br>36</div>
<div class="c b" style="left:1.9px;top:164px;width:60.6px;height:23.39px;line-height:23.39px;">T_55464</div>
<div class="c b" style="left:62.9px;top:164px;width:104px;height:23.39px;line-height:23.39px;">Конов</div>
<div class="c b" style="left:375.9px;top:164px;width:61.9px;height:23.39px;line-height:23.39px;">G-Z31459</div>
<div class="c b" style="left:438.2px;top:164px;width:31.2px;height:23.39px;line-height:23.39px;">0</div>
<div class="c b" style="left:469.8px;top:164px;width:30.7px;height:23.39px;line-height:23.39px;">0</div>
<div class="c b" style="left:500.9px;top:164px;width:30.8px;height:23.39px;line-height:23.39px;">100%</div>
<div class="c b" style="left:532.1px;top:164px;width:30.5px;height:23.39px;line-height:23.39px;">100%</div>
<div class="c b" style="left:1.9px;top:187.39px;width:60.6px;height:23.39px;line-height:23.39px;">T_403662</div>
<div class="c b" style="left:62.9px;top:187.39px;width:104px;height:23.39px;line-height:23.39px;">Chechenov</div>
<div class="c b" style="left:167.3px;top:187.39px;width:104.2px;height:23.39px;line-height:23.39px;">Chechenov, Balkari…</div>
<div class="c b" style="left:271.9px;top:187.39px;width:103.6px;height:23.39px;line-height:23.39px;">Russian Federation</div>
<div class="c b" style="left:375.9px;top:187.39px;width:61.9px;height:23.39px;line-height:23.39px;">G-Z31463</div>
<div class="c b" style="left:438.2px;top:187.39px;width:31.2px;height:23.39px;line-height:23.39px;">5</div>
<div class="c b" style="left:469.8px;top:187.39px;width:30.7px;height:23.39px;line-height:23.39px;">-23</div>
<div class="c b" style="left:500.9px;top:187.39px;width:30.8px;height:23.39px;line-height:23.39px;">90%</div>
<div class="c b" style="left:532.1px;top:187.39px;width:30.5px;height:23.39px;line-height:23.39px;">93%</div>
<div class="c m" style="left:805.64px;top:187.39px;width:15.19px;height:23.39px;line-height:23.39px;">+2</div>
<div class="c m" style="left:942.35px;top:187.39px;width:15.19px;height:23.39px;line-height:23.39px;">+1</div>
<div class="c m" style="left:1003.11px;top:187.39px;width:18.29px;height:23.39px;line-height:23.39px;">+2</div>
<div class="c b" style="left:1.9px;top:210.78px;width:60.6px;height:23.39px;line-height:23.39px;">T_MI49733</div>
<div class="c b" style="left:62.9px;top:210.78px;width:104px;height:23.39px;line-height:23.39px;">Chechenov</div>
<div class="c b" style="left:167.3px;top:210.78px;width:104.2px;height:23.39px;line-height:23.39px;">Chechenov, Balkari…</div>
<div class="c b" style="left:271.9px;top:210.78px;width:103.6px;height:23.39px;line-height:23.39px;">Russian Federation</div>
<div class="c b" style="left:375.9px;top:210.78px;width:61.9px;height:23.39px;line-height:23.39px;">G-M201</div>
<div class="c b" style="left:438.2px;top:210.78px;width:31.2px;height:23.39px;line-height:23.39px;">5</div>
<div class="c b" style="left:469.8px;top:210.78px;width:30.7px;height:23.39px;line-height:23.39px;">-23</div>
<div class="c b" style="left:500.9px;top:210.78px;width:30.8px;height:23.39px;line-height:23.39px;">90%</div>
<div class="c b" style="left:532.1px;top:210.78px;width:30.5px;height:23.39px;line-height:23.39px;">93%</div>
<div class="c m" style="left:805.64px;top:210.78px;width:15.19px;height:23.39px;line-height:23.39px;">+2</div>
<div class="c m" style="left:942.35px;top:210.78px;width:15.19px;height:23.39px;line-height:23.39px;">+1</div>
<div class="c m" style="left:1003.11px;top:210.78px;width:18.29px;height:23.39px;line-height:23.39px;">+2</div>
<div class="c b" style="left:1.9px;top:234.17px;width:60.6px;height:23.39px;line-height:23.39px;">T_495761</div>
<div class="c b" style="left:62.9px;top:234.17px;width:104px;height:23.39px;line-height:23.39px;">Zhilkibaev</div>
<div class="c b" style="left:167.3px;top:234.17px;width:104.2px;height:23.39px;line-height:23.39px;">Zhilkibaev, Balkaria …</div>
<div class="c b" style="left:271.9px;top:234.17px;width:103.6px;height:23.39px;line-height:23.39px;">Russian Federation</div>
<div class="c b" style="left:375.9px;top:234.17px;width:61.9px;height:23.39px;line-height:23.39px;">G-M201</div>
<div class="c b" style="left:438.2px;top:234.17px;width:31.2px;height:23.39px;line-height:23.39px;">5</div>
<div class="c b" style="left:469.8px;top:234.17px;width:30.7px;height:23.39px;line-height:23.39px;">-25</div>
<div class="c b" style="left:500.9px;top:234.17px;width:30.8px;height:23.39px;line-height:23.39px;">87%</div>
<div class="c b" style="left:532.1px;top:234.17px;width:30.5px;height:23.39px;line-height:23.39px;">97%</div>
<div class="c m" style="left:805.64px;top:234.17px;width:15.19px;height:23.39px;line-height:23.39px;">+2</div>
<div class="c m" style="left:957.54px;top:234.17px;width:15.19px;height:23.39px;line-height:23.39px;">-1</div>
<div class="c m" style="left:972.73px;top:234.17px;width:15.19px;height:23.39px;line-height:23.39px;">+1</div>
<div class="c m" style="left:1003.11px;top:234.17px;width:18.29px;height:23.39px;line-height:23.39px;">+1</div>
<div class="c b" style="left:1.9px;top:257.56px;width:60.6px;height:23.39px;line-height:23.39px;">T_268804</div>
<div class="c b" style="left:62.9px;top:257.56px;width:104px;height:23.39px;line-height:23.39px;">Kecherukov</div>
<div class="c b" style="left:167.3px;top:257.56px;width:104.2px;height:23.39px;line-height:23.39px;">Kecheruk, Uchkulan…</div>
<div class="c b" style="left:271.9px;top:257.56px;width:103.6px;height:23.39px;line-height:23.39px;">Russian Federation</div>
<div class="c b" style="left:375.9px;top:257.56px;width:61.9px;height:23.39px;line-height:23.39px;">G-M201</div>
<div class="c b" style="left:438.2px;top:257.56px;width:31.2px;height:23.39px;line-height:23.39px;">5</div>
<div class="c b" style="left:469.8px;top:257.56px;width:30.7px;height:23.39px;line-height:23.39px;">-26</div>
<div class="c b" style="left:500.9px;top:257.56px;width:30.8px;height:23.39px;line-height:23.39px;">87%</div>
<div class="c b" style="left:532.1px;top:257.56px;width:30.5px;height:23.39px;line-height:23.39px;">97%</div>
<div class="c m" style="left:790.45px;top:257.56px;width:15.19px;height:23.39px;line-height:23.39px;">+1</div>
<div class="c m" style="left:805.64px;top:257.56px;width:15.19px;height:23.39px;line-height:23.39px;">+2</div>
<div class="c m" style="left:942.35px;top:257.56px;width:15.19px;height:23.39px;line-height:23.39px;">+1</div>
<div class="c m" style="left:1003.11px;top:257.56px;width:18.29px;height:23.39px;line-height:23.39px;">+1</div>
<div class="c b" style="left:1.9px;top:280.95px;width:60.6px;height:23.39px;line-height:23.39px;">T_278517</div>
<div class="c b" style="left:62.9px;top:280.95px;width:104px;height:23.39px;line-height:23.39px;">Baychorov</div>
<div class="c b" style="left:167.3px;top:280.95px;width:104.2px;height:23.39px;line-height:23.39px;">ataul Bedene, Bayc…</div>
<div class="c b" style="left:271.9px;top:280.95px;width:103.6px;height:23.39px;line-height:23.39px;">Russian Federation</div>
<div class="c b" style="left:375.9px;top:280.95px;width:61.9px;height:23.39px;line-height:23.39px;">G-M201</div>
<div class="c b" style="left:438.2px;top:280.95px;width:31.2px;height:23.39px;line-height:23.39px;">5</div>
<div class="c b" style="left:469.8px;top:280.95px;width:30.7px;height:23.39px;line-height:23.39px;">-28</div>
<div class="c b" style="left:500.9px;top:280.95px;width:30.8px;height:23.39px;line-height:23.39px;">87%</div>
<div class="c b" style="left:532.1px;top:280.95px;width:30.5px;height:23.39px;line-height:23.39px;">97%</div>
<div class="c m" style="left:790.45px;top:280.95px;width:15.19px;height:23.39px;line-height:23.39px;">+1</div>
<div class="c m" style="left:805.64px;top:280.95px;width:15.19px;height:23.39px;line-height:23.39px;">+2</div>
<div class="c m" style="left:896.78px;top:280.95px;width:15.19px;height:23.39px;line-height:23.39px;">+1</div>
<div class="c m" style="left:942.35px;top:280.95px;width:15.19px;height:23.39px;line-height:23.39px;">+1</div>
<div class="c b" style="left:1.9px;top:304.34px;width:60.6px;height:23.39px;line-height:23.39px;">T_SI13785</div>
<div class="c b" style="left:62.9px;top:304.34px;width:104px;height:23.39px;line-height:23.39px;">Shid</div>
<div class="c b" style="left:167.3px;top:304.34px;width:104.2px;height:23.39px;line-height:23.39px;">Shid Hatokshoko, 1…</div>
<div class="c b" style="left:271.9px;top:304.34px;width:103.6px;height:23.39px;line-height:23.39px;">Circassia</div>
<div class="c b" style="left:375.9px;top:304.34px;width:61.9px;height:23.39px;line-height:23.39px;">G-BY123762</div>
<div class="c b" style="left:438.2px;top:304.34px;width:31.2px;height:23.39px;line-height:23.39px;">6</div>
<div class="c b" style="left:469.8px;top:304.34px;width:30.7px;height:23.39px;line-height:23.39px;">-29</div>
<div class="c b" style="left:500.9px;top:304.34px;width:30.8px;height:23.39px;line-height:23.39px;">87%</div>
<div class="c b" style="left:532.1px;top:304.34px;width:30.5px;height:23.39px;line-height:23.39px;">93%</div>
<div class="c m" style="left:790.45px;top:304.34px;width:15.19px;height:23.39px;line-height:23.39px;">+1</div>
<div class="c m" style="left:805.64px;top:304.34px;width:15.19px;height:23.39px;line-height:23.39px;">+2</div>
<div class="c m" style="left:942.35px;top:304.34px;width:15.19px;height:23.39px;line-height:23.39px;">+1</div>
<div class="c m" style="left:1003.11px;top:304.34px;width:18.29px;height:23.39px;line-height:23.39px;">+2</div>
<div class="c b" style="left:1.9px;top:327.73px;width:60.6px;height:23.39px;line-height:23.39px;">T_253645</div>
<div class="c b" style="left:62.9px;top:327.73px;width:104px;height:23.39px;line-height:23.39px;">Saghliani</div>
<div class="c b" style="left:167.3px;top:327.73px;width:104.2px;height:23.39px;line-height:23.39px;">Saghliani (Soltnær):…</div>
<div class="c b" style="left:271.9px;top:327.73px;width:103.6px;height:23.39px;line-height:23.39px;">Georgia</div>
<div class="c b" style="left:375.9px;top:327.73px;width:61.9px;height:23.39px;line-height:23.39px;">G-M201</div>
<div class="c b" style="left:438.2px;top:327.73px;width:31.2px;height:23.39px;line-height:23.39px;">6</div>
<div class="c b" style="left:469.8px;top:327.73px;width:30.7px;height:23.39px;line-height:23.39px;">-29</div>
<div class="c b" style="left:500.9px;top:327.73px;width:30.8px;height:23.39px;line-height:23.39px;">87%</div>
<div class="c b" style="left:532.1px;top:327.73px;width:30.5px;height:23.39px;line-height:23.39px;">93%</div>
<div class="c m" style="left:790.45px;top:327.73px;width:15.19px;height:23.39px;line-height:23.39px;">+1</div>
<div class="c m" style="left:805.64px;top:327.73px;width:15.19px;height:23.39px;line-height:23.39px;">+2</div>
<div class="c m" style="left:972.73px;top:327.73px;width:15.19px;height:23.39px;line-height:23.39px;">+1</div>
<div class="c m" style="left:1003.11px;top:327.73px;width:18.29px;height:23.39px;line-height:23.39px;">+2</div>
<div class="c b" style="left:1.9px;top:351.12px;width:60.6px;height:23.39px;line-height:23.39px;">T_39684</div>
<div class="c b" style="left:62.9px;top:351.12px;width:104px;height:23.39px;line-height:23.39px;">Bizhukov</div>
<div class="c b" style="left:271.9px;top:351.12px;width:103.6px;height:23.39px;line-height:23.39px;">Circassia</div>
<div class="c b" style="left:375.9px;top:351.12px;width:61.9px;height:23.39px;line-height:23.39px;">G-Z45053</div>
<div class="c b" style="left:438.2px;top:351.12px;width:31.2px;height:23.39px;line-height:23.39px;">7</div>
<div class="c b" style="left:469.8px;top:351.12px;width:30.7px;height:23.39px;line-height:23.39px;">-30</div>
<div class="c b" style="left:500.9px;top:351.12px;width:30.8px;height:23.39px;line-height:23.39px;">90%</div>
<div class="c b" style="left:532.1px;top:351.12px;width:30.5px;height:23.39px;line-height:23.39px;">93%</div>
<div class="c m" style="left:805.64px;top:351.12px;width:15.19px;height:23.39px;line-height:23.39px;">+2</div>
<div class="c m" style="left:957.54px;top:351.12px;width:15.19px;height:23.39px;line-height:23.39px;">+1</div>
<div class="c m" style="left:1003.11px;top:351.12px;width:18.29px;height:23.39px;line-height:23.39px;">+4</div>
<div class="c b" style="left:1.9px;top:374.51px;width:60.6px;height:23.39px;line-height:23.39px;">T_253630</div>
<div class="c b" style="left:62.9px;top:374.51px;width:104px;height:23.39px;line-height:23.39px;">Shampriani</div>
<div class="c b" style="left:167.3px;top:374.51px;width:104.2px;height:23.39px;line-height:23.39px;">Shampriani (Kibola…</div>
<div class="c b" style="left:271.9px;top:374.51px;width:103.6px;height:23.39px;line-height:23.39px;">Georgia</div>
<div class="c b" style="left:375.9px;top:374.51px;width:61.9px;height:23.39px;line-height:23.39px;">G-M201</div>
<div class="c b" style="left:438.2px;top:374.51px;width:31.2px;height:23.39px;line-height:23.39px;">6</div>
<div class="c b" style="left:469.8px;top:374.51px;width:30.7px;height:23.39px;line-height:23.39px;">-30</div>
<div class="c b" style="left:500.9px;top:374.51px;width:30.8px;height:23.39px;line-height:23.39px;">87%</div>
<div class="c b" style="left:532.1px;top:374.51px;width:30.5px;height:23.39px;line-height:23.39px;">93%</div>
<div class="c m" style="left:775.26px;top:374.51px;width:15.19px;height:23.39px;line-height:23.39px;">+1</div>
<div class="c m" style="left:805.64px;top:374.51px;width:15.19px;height:23.39px;line-height:23.39px;">+2</div>
<div class="c m" style="left:942.35px;top:374.51px;width:15.19px;height:23.39px;line-height:23.39px;">+1</div>
<div class="c m" style="left:1003.11px;top:374.51px;width:18.29px;height:23.39px;line-height:23.39px;">+2</div>
<div class="c b" style="left:1.9px;top:397.9px;width:60.6px;height:23.39px;line-height:23.39px;">T_280191</div>
<div class="c b" style="left:62.9px;top:397.9px;width:104px;height:23.39px;line-height:23.39px;">Uzdenov</div>
<div class="c b" style="left:167.3px;top:397.9px;width:104.2px;height:23.39px;line-height:23.39px;">Özden (ataul Sabaz…</div>
<div class="c b" style="left:271.9px;top:397.9px;width:103.6px;height:23.39px;line-height:23.39px;">Russian Federation</div>
<div class="c b" style="left:375.9px;top:397.9px;width:61.9px;height:23.39px;line-height:23.39px;">G-M201</div>
<div class="c b" style="left:438.2px;top:397.9px;width:31.2px;height:23.39px;line-height:23.39px;">6</div>
<div class="c b" style="left:469.8px;top:397.9px;width:30.7px;height:23.39px;line-height:23.39px;">-30</div>
<div class="c b" style="left:500.9px;top:397.9px;width:30.8px;height:23.39px;line-height:23.39px;">87%</div>
<div class="c b" style="left:532.1px;top:397.9px;width:30.5px;height:23.39px;line-height:23.39px;">93%</div>
<div class="c m" style="left:790.45px;top:397.9px;width:15.19px;height:23.39px;line-height:23.39px;">+1</div>
<div class="c m" style="left:805.64px;top:397.9px;width:15.19px;height:23.39px;line-height:23.39px;">+2</div>
<div class="c m" style="left:927.16px;top:397.9px;width:15.19px;height:23.39px;line-height:23.39px;">-1</div>
<div class="c m" style="left:1003.11px;top:397.9px;width:18.29px;height:23.39px;line-height:23.39px;">+2</div>
<div class="c b" style="left:1.9px;top:421.29px;width:60.6px;height:23.39px;line-height:23.39px;">T_55404</div>
<div class="c b" style="left:62.9px;top:421.29px;width:104px;height:23.39px;line-height:23.39px;">Мендохов</div>
<div class="c b" style="left:271.9px;top:421.29px;width:103.6px;height:23.39px;line-height:23.39px;">Circassia</div>
<div class="c b" style="left:375.9px;top:421.29px;width:61.9px;height:23.39px;line-height:23.39px;">G2a1</div>
<div class="c b" style="left:438.2px;top:421.29px;width:31.2px;height:23.39px;line-height:23.39px;">6</div>
<div class="c b" style="left:469.8px;top:421.29px;width:30.7px;height:23.39px;line-height:23.39px;">-31</div>
<div class="c b" style="left:500.9px;top:421.29px;width:30.8px;height:23.39px;line-height:23.39px;">83%</div>
<div class="c b" style="left:532.1px;top:421.29px;width:30.5px;height:23.39px;line-height:23.39px;">97%</div>
<div class="c m" style="left:805.64px;top:421.29px;width:15.19px;height:23.39px;line-height:23.39px;">+2</div>
<div class="c m" style="left:836.02px;top:421.29px;width:15.19px;height:23.39px;line-height:23.39px;">+1</div>
<div class="c m" style="left:911.97px;top:421.29px;width:15.19px;height:23.39px;line-height:23.39px;">+1</div>
<div class="c m" style="left:942.35px;top:421.29px;width:15.19px;height:23.39px;line-height:23.39px;">+1</div>
<div class="c m" style="left:1003.11px;top:421.29px;width:18.29px;height:23.39px;line-height:23.39px;">+1</div>
<div class="c b" style="left:1.9px;top:444.68px;width:60.6px;height:23.39px;line-height:23.39px;">T_253655</div>
<div class="c b" style="left:62.9px;top:444.68px;width:104px;height:23.39px;line-height:23.39px;">Mikiani</div>
<div class="c b" style="left:167.3px;top:444.68px;width:104.2px;height:23.39px;line-height:23.39px;">Mikiani: Svaneti, Ch…</div>
<div class="c b" style="left:271.9px;top:444.68px;width:103.6px;height:23.39px;line-height:23.39px;">Georgia</div>
<div class="c b" style="left:375.9px;top:444.68px;width:61.9px;height:23.39px;line-height:23.39px;">G-M201</div>
<div class="c b" style="left:438.2px;top:444.68px;width:31.2px;height:23.39px;line-height:23.39px;">6</div>
<div class="c b" style="left:469.8px;top:444.68px;width:30.7px;height:23.39px;line-height:23.39px;">-31</div>
<div class="c b" style="left:500.9px;top:444.68px;width:30.8px;height:23.39px;line-height:23.39px;">80%</div>
<div class="c b" style="left:532.1px;top:444.68px;width:30.5px;height:23.39px;line-height:23.39px;">100%</div>
<div class="c m" style="left:790.45px;top:444.68px;width:15.19px;height:23.39px;line-height:23.39px;">+1</div>
<div class="c m" style="left:805.64px;top:444.68px;width:15.19px;height:23.39px;line-height:23.39px;">+1</div>
<div class="c m" style="left:836.02px;top:444.68px;width:15.19px;height:23.39px;line-height:23.39px;">-1</div>
<div class="c m" style="left:942.35px;top:444.68px;width:15.19px;height:23.39px;line-height:23.39px;">+1</div>
<div class="c m" style="left:987.92px;top:444.68px;width:15.19px;height:23.39px;line-height:23.39px;">+1</div>
<div class="c m" style="left:1003.11px;top:444.68px;width:18.29px;height:23.39px;line-height:23.39px;">+1</div>
<div class="c b" style="left:1.9px;top:468.07px;width:60.6px;height:23.39px;line-height:23.39px;">T_276955</div>
<div class="c b" style="left:62.9px;top:468.07px;width:104px;height:23.39px;line-height:23.39px;">Btemirov</div>
<div class="c b" style="left:167.3px;top:468.07px;width:104.2px;height:23.39px;line-height:23.39px;">Btemirov, Btemyrat…</div>
<div class="c b" style="left:271.9px;top:468.07px;width:103.6px;height:23.39px;line-height:23.39px;">Russian Federation</div>
<div class="c b" style="left:375.9px;top:468.07px;width:61.9px;height:23.39px;line-height:23.39px;">G-M201</div>
<div class="c b" style="left:438.2px;top:468.07px;width:31.2px;height:23.39px;line-height:23.39px;">6</div>
<div class="c b" style="left:469.8px;top:468.07px;width:30.7px;height:23.39px;line-height:23.39px;">-31</div>
<div class="c b" style="left:500.9px;top:468.07px;width:30.8px;height:23.39px;line-height:23.39px;">83%</div>
<div class="c b" style="left:532.1px;top:468.07px;width:30.5px;height:23.39px;line-height:23.39px;">97%</div>
<div class="c m" style="left:790.45px;top:468.07px;width:15.19px;height:23.39px;line-height:23.39px;">+1</div>
<div class="c m" style="left:805.64px;top:468.07px;width:15.19px;height:23.39px;line-height:23.39px;">+2</div>
<div class="c m" style="left:911.97px;top:468.07px;width:15.19px;height:23.39px;line-height:23.39px;">+1</div>
<div class="c m" style="left:942.35px;top:468.07px;width:15.19px;height:23.39px;line-height:23.39px;">+1</div>
<div class="c m" style="left:1003.11px;top:468.07px;width:18.29px;height:23.39px;line-height:23.39px;">+1</div>
<div class="c b" style="left:1.9px;top:491.46px;width:60.6px;height:23.39px;line-height:23.39px;">T_291854</div>
<div class="c b" style="left:62.9px;top:491.46px;width:104px;height:23.39px;line-height:23.39px;">Bolurov</div>
<div class="c b" style="left:167.3px;top:491.46px;width:104.2px;height:23.39px;line-height:23.39px;">ataul Baraq, Bolurov…</div>
<div class="c b" style="left:271.9px;top:491.46px;width:103.6px;height:23.39px;line-height:23.39px;">Russian Federation</div>
<div class="c b" style="left:375.9px;top:491.46px;width:61.9px;height:23.39px;line-height:23.39px;">G-M201</div>
<div class="c b" style="left:438.2px;top:491.46px;width:31.2px;height:23.39px;line-height:23.39px;">6</div>
<div class="c b" style="left:469.8px;top:491.46px;width:30.7px;height:23.39px;line-height:23.39px;">-31</div>
<div class="c b" style="left:500.9px;top:491.46px;width:30.8px;height:23.39px;line-height:23.39px;">83%</div>
<div class="c b" style="left:532.1px;top:491.46px;width:30.5px;height:23.39px;line-height:23.39px;">97%</div>
<div class="c m" style="left:790.45px;top:491.46px;width:15.19px;height:23.39px;line-height:23.39px;">+1</div>
<div class="c m" style="left:805.64px;top:491.46px;width:15.19px;height:23.39px;line-height:23.39px;">+2</div>
<div class="c m" style="left:942.35px;top:491.46px;width:15.19px;height:23.39px;line-height:23.39px;">+1</div>
<div class="c m" style="left:972.73px;top:491.46px;width:15.19px;height:23.39px;line-height:23.39px;">+1</div>
<div class="c m" style="left:1003.11px;top:491.46px;width:18.29px;height:23.39px;line-height:23.39px;">+1</div>
<div class="c b" style="left:1.9px;top:514.85px;width:60.6px;height:23.39px;line-height:23.39px;">T_208704</div>
<div class="c b" style="left:62.9px;top:514.85px;width:104px;height:23.39px;line-height:23.39px;">Mikadze</div>
<div class="c b" style="left:167.3px;top:514.85px;width:104.2px;height:23.39px;line-height:23.39px;">Duke (ერისთავი/eri…</div>
<div class="c b" style="left:271.9px;top:514.85px;width:103.6px;height:23.39px;line-height:23.39px;">Georgia</div>
<div class="c b" style="left:375.9px;top:514.85px;width:61.9px;height:23.39px;line-height:23.39px;">G-Z31463</div>
<div class="c b" style="left:438.2px;top:514.85px;width:31.2px;height:23.39px;line-height:23.39px;">7</div>
<div class="c b" style="left:469.8px;top:514.85px;width:30.7px;height:23.39px;line-height:23.39px;">-35</div>
<div class="c b" style="left:500.9px;top:514.85px;width:30.8px;height:23.39px;line-height:23.39px;">83%</div>
<div class="c b" style="left:532.1px;top:514.85px;width:30.5px;height:23.39px;line-height:23.39px;">93%</div>
<div class="c m" style="left:790.45px;top:514.85px;width:15.19px;height:23.39px;line-height:23.39px;">+1</div>
<div class="c m" style="left:805.64px;top:514.85px;width:15.19px;height:23.39px;line-height:23.39px;">+2</div>
<div class="c m" style="left:866.4px;top:514.85px;width:15.19px;height:23.39px;line-height:23.39px;">+1</div>
<div class="c m" style="left:942.35px;top:514.85px;width:15.19px;height:23.39px;line-height:23.39px;">+1</div>
<div class="c m" style="left:1003.11px;top:514.85px;width:18.29px;height:23.39px;line-height:23.39px;">+2</div>
<div class="c b" style="left:1.9px;top:538.24px;width:60.6px;height:23.39px;line-height:23.39px;">T_737011</div>
<div class="c b" style="left:62.9px;top:538.24px;width:104px;height:23.39px;line-height:23.39px;">Taysumov</div>
<div class="c b" style="left:167.3px;top:538.24px;width:104.2px;height:23.39px;line-height:23.39px;">Chechen Republic, …</div>
<div class="c b" style="left:271.9px;top:538.24px;width:103.6px;height:23.39px;line-height:23.39px;">Russian Federation</div>
<div class="c b" style="left:375.9px;top:538.24px;width:61.9px;height:23.39px;line-height:23.39px;">G-M201</div>
<div class="c b" style="left:438.2px;top:538.24px;width:31.2px;height:23.39px;line-height:23.39px;">7</div>
<div class="c b" style="left:469.8px;top:538.24px;width:30.7px;height:23.39px;line-height:23.39px;">-35</div>
<div class="c b" style="left:500.9px;top:538.24px;width:30.8px;height:23.39px;line-height:23.39px;">80%</div>
<div class="c b" style="left:532.1px;top:538.24px;width:30.5px;height:23.39px;line-height:23.39px;">97%</div>
<div class="c m" style="left:805.64px;top:538.24px;width:15.19px;height:23.39px;line-height:23.39px;">+2</div>
<div class="c m" style="left:896.78px;top:538.24px;width:15.19px;height:23.39px;line-height:23.39px;">+1</div>
<div class="c m" style="left:911.97px;top:538.24px;width:15.19px;height:23.39px;line-height:23.39px;">+1</div>
<div class="c m" style="left:942.35px;top:538.24px;width:15.19px;height:23.39px;line-height:23.39px;">+1</div>
<div class="c m" style="left:957.54px;top:538.24px;width:15.19px;height:23.39px;line-height:23.39px;">+1</div>
<div class="c m" style="left:1003.11px;top:538.24px;width:18.29px;height:23.39px;line-height:23.39px;">+1</div>
<div class="c b" style="left:1.9px;top:561.63px;width:60.6px;height:23.39px;line-height:23.39px;">T_277545</div>
<div class="c b" style="left:62.9px;top:561.63px;width:104px;height:23.39px;line-height:23.39px;">Uzdenov</div>
<div class="c b" style="left:167.3px;top:561.63px;width:104.2px;height:23.39px;line-height:23.39px;">Özden (ataul Bekir),…</div>
<div class="c b" style="left:271.9px;top:561.63px;width:103.6px;height:23.39px;line-height:23.39px;">Russian Federation</div>
<div class="c b" style="left:375.9px;top:561.63px;width:61.9px;height:23.39px;line-height:23.39px;">G-M201</div>
<div class="c b" style="left:438.2px;top:561.63px;width:31.2px;height:23.39px;line-height:23.39px;">7</div>
<div class="c b" style="left:469.8px;top:561.63px;width:30.7px;height:23.39px;line-height:23.39px;">-36</div>
<div class="c b" style="left:500.9px;top:561.63px;width:30.8px;height:23.39px;line-height:23.39px;">83%</div>
<div class="c b" style="left:532.1px;top:561.63px;width:30.5px;height:23.39px;line-height:23.39px;">93%</div>
<div class="c m" style="left:684.12px;top:561.63px;width:15.19px;height:23.39px;line-height:23.39px;">+1</div>
<div class="c m" style="left:790.45px;top:561.63px;width:15.19px;height:23.39px;line-height:23.39px;">+1</div>
<div class="c m" style="left:805.64px;top:561.63px;width:15.19px;height:23.39px;line-height:23.39px;">+2</div>
<div class="c m" style="left:942.35px;top:561.63px;width:15.19px;height:23.39px;line-height:23.39px;">+1</div>
<div class="c m" style="left:1003.11px;top:561.63px;width:18.29px;height:23.39px;line-height:23.39px;">+2</div>
<div class="c b" style="left:1.9px;top:585.02px;width:60.6px;height:23.39px;line-height:23.39px;">T_747637</div>
<div class="c b" style="left:62.9px;top:585.02px;width:104px;height:23.39px;line-height:23.39px;">Israilov</div>
<div class="c b" style="left:167.3px;top:585.02px;width:104.2px;height:23.39px;line-height:23.39px;">Chechen Republic, …</div>
<div class="c b" style="left:271.9px;top:585.02px;width:103.6px;height:23.39px;line-height:23.39px;">Russian Federation</div>
<div class="c b" style="left:375.9px;top:585.02px;width:61.9px;height:23.39px;line-height:23.39px;">G-M201</div>
<div class="c b" style="left:438.2px;top:585.02px;width:31.2px;height:23.39px;line-height:23.39px;">7</div>
<div class="c b" style="left:469.8px;top:585.02px;width:30.7px;height:23.39px;line-height:23.39px;">-36</div>
<div class="c b" style="left:500.9px;top:585.02px;width:30.8px;height:23.39px;line-height:23.39px;">83%</div>
<div class="c b" style="left:532.1px;top:585.02px;width:30.5px;height:23.39px;line-height:23.39px;">93%</div>
<div class="c m" style="left:805.64px;top:585.02px;width:15.19px;height:23.39px;line-height:23.39px;">+2</div>
<div class="c m" style="left:896.78px;top:585.02px;width:15.19px;height:23.39px;line-height:23.39px;">+2</div>
<div class="c m" style="left:911.97px;top:585.02px;width:15.19px;height:23.39px;line-height:23.39px;">+1</div>
<div class="c m" style="left:957.54px;top:585.02px;width:15.19px;height:23.39px;line-height:23.39px;">+1</div>
<div class="c m" style="left:1003.11px;top:585.02px;width:18.29px;height:23.39px;line-height:23.39px;">+1</div>
<div class="c b" style="left:1.9px;top:608.41px;width:60.6px;height:23.39px;line-height:23.39px;">T_246247</div>
<div class="c b" style="left:62.9px;top:608.41px;width:104px;height:23.39px;line-height:23.39px;">Ioseliani</div>
<div class="c b" style="left:167.3px;top:608.41px;width:104.2px;height:23.39px;line-height:23.39px;">Amsajan/Argun/Bes…</div>
<div class="c b" style="left:271.9px;top:608.41px;width:103.6px;height:23.39px;line-height:23.39px;">Georgia</div>
<div class="c b" style="left:375.9px;top:608.41px;width:61.9px;height:23.39px;line-height:23.39px;">G-M201</div>
<div class="c b" style="left:438.2px;top:608.41px;width:31.2px;height:23.39px;line-height:23.39px;">7</div>
<div class="c b" style="left:469.8px;top:608.41px;width:30.7px;height:23.39px;line-height:23.39px;">-37</div>
<div class="c b" style="left:500.9px;top:608.41px;width:30.8px;height:23.39px;line-height:23.39px;">83%</div>
<div class="c b" style="left:532.1px;top:608.41px;width:30.5px;height:23.39px;line-height:23.39px;">93%</div>
<div class="c m" style="left:653.74px;top:608.41px;width:15.19px;height:23.39px;line-height:23.39px;">-1</div>
<div class="c m" style="left:790.45px;top:608.41px;width:15.19px;height:23.39px;line-height:23.39px;">+1</div>
<div class="c m" style="left:805.64px;top:608.41px;width:15.19px;height:23.39px;line-height:23.39px;">+2</div>
<div class="c m" style="left:942.35px;top:608.41px;width:15.19px;height:23.39px;line-height:23.39px;">+1</div>
<div class="c m" style="left:1003.11px;top:608.41px;width:18.29px;height:23.39px;line-height:23.39px;">+2</div>
<div class="c b" style="left:1.9px;top:631.8px;width:60.6px;height:23.39px;line-height:23.39px;">T_2910</div>
<div class="c b" style="left:62.9px;top:631.8px;width:104px;height:23.39px;line-height:23.39px;">Kanukov</div>
<div class="c b" style="left:167.3px;top:631.8px;width:104.2px;height:23.39px;line-height:23.39px;">Kanikti, Donifars</div>
<div class="c b" style="left:271.9px;top:631.8px;width:103.6px;height:23.39px;line-height:23.39px;">Digor</div>
<div class="c b" style="left:375.9px;top:631.8px;width:61.9px;height:23.39px;line-height:23.39px;">-</div>
<div class="c b" style="left:438.2px;top:631.8px;width:31.2px;height:23.39px;line-height:23.39px;">7</div>
<div class="c b" style="left:469.8px;top:631.8px;width:30.7px;height:23.39px;line-height:23.39px;">-37</div>
<div class="c b" style="left:500.9px;top:631.8px;width:30.8px;height:23.39px;line-height:23.39px;">80%</div>
<div class="c b" style="left:532.1px;top:631.8px;width:30.5px;height:23.39px;line-height:23.39px;">97%</div>
<div class="c m" style="left:790.45px;top:631.8px;width:15.19px;height:23.39px;line-height:23.39px;">+1</div>
<div class="c m" style="left:805.64px;top:631.8px;width:15.19px;height:23.39px;line-height:23.39px;">+2</div>
<div class="c m" style="left:866.4px;top:631.8px;width:15.19px;height:23.39px;line-height:23.39px;">+1</div>
<div class="c m" style="left:896.78px;top:631.8px;width:15.19px;height:23.39px;line-height:23.39px;">+1</div>
<div class="c m" style="left:942.35px;top:631.8px;width:15.19px;height:23.39px;line-height:23.39px;">+1</div>
<div class="c m" style="left:1003.11px;top:631.8px;width:18.29px;height:23.39px;line-height:23.39px;">+1</div>
<div class="c b" style="left:1.9px;top:655.19px;width:60.6px;height:23.39px;line-height:23.39px;">T_MI20926</div>
<div class="c b" style="left:62.9px;top:655.19px;width:104px;height:23.39px;line-height:23.39px;">Beysultanov</div>
<div class="c b" style="left:167.3px;top:655.19px;width:104.2px;height:23.39px;line-height:23.39px;">Chechen Republic, …</div>
<div class="c b" style="left:271.9px;top:655.19px;width:103.6px;height:23.39px;line-height:23.39px;">Russian Federation</div>
<div class="c b" style="left:375.9px;top:655.19px;width:61.9px;height:23.39px;line-height:23.39px;">G-Z45052</div>
<div class="c b" style="left:438.2px;top:655.19px;width:31.2px;height:23.39px;line-height:23.39px;">7</div>
<div class="c b" style="left:469.8px;top:655.19px;width:30.7px;height:23.39px;line-height:23.39px;">-37</div>
<div class="c b" style="left:500.9px;top:655.19px;width:30.8px;height:23.39px;line-height:23.39px;">77%</div>
<div class="c b" style="left:532.1px;top:655.19px;width:30.5px;height:23.39px;line-height:23.39px;">100%</div>
<div class="c m" style="left:668.93px;top:655.19px;width:15.19px;height:23.39px;line-height:23.39px;">-1</div>
<div class="c m" style="left:790.45px;top:655.19px;width:15.19px;height:23.39px;line-height:23.39px;">+1</div>
<div class="c m" style="left:805.64px;top:655.19px;width:15.19px;height:23.39px;line-height:23.39px;">+1</div>
<div class="c m" style="left:911.97px;top:655.19px;width:15.19px;height:23.39px;line-height:23.39px;">+1</div>
<div class="c m" style="left:942.35px;top:655.19px;width:15.19px;height:23.39px;line-height:23.39px;">+1</div>
<div class="c m" style="left:972.73px;top:655.19px;width:15.19px;height:23.39px;line-height:23.39px;">-1</div>
<div class="c m" style="left:1003.11px;top:655.19px;width:18.29px;height:23.39px;line-height:23.39px;">+1</div>
<div class="c b" style="left:1.9px;top:678.58px;width:60.6px;height:23.39px;line-height:23.39px;">T_315539</div>
<div class="c b" style="left:62.9px;top:678.58px;width:104px;height:23.39px;line-height:23.39px;">Mollaev</div>
<div class="c b" style="left:167.3px;top:678.58px;width:104.2px;height:23.39px;line-height:23.39px;">Mollaev, Balkaria (B…</div>
<div class="c b" style="left:271.9px;top:678.58px;width:103.6px;height:23.39px;line-height:23.39px;">Russian Federation</div>
<div class="c b" style="left:375.9px;top:678.58px;width:61.9px;height:23.39px;line-height:23.39px;">G-M201</div>
<div class="c b" style="left:438.2px;top:678.58px;width:31.2px;height:23.39px;line-height:23.39px;">7</div>
<div class="c b" style="left:469.8px;top:678.58px;width:30.7px;height:23.39px;line-height:23.39px;">-38</div>
<div class="c b" style="left:500.9px;top:678.58px;width:30.8px;height:23.39px;line-height:23.39px;">83%</div>
<div class="c b" style="left:532.1px;top:678.58px;width:30.5px;height:23.39px;line-height:23.39px;">93%</div>
<div class="c m" style="left:653.74px;top:678.58px;width:15.19px;height:23.39px;line-height:23.39px;">+1</div>
<div class="c m" style="left:790.45px;top:678.58px;width:15.19px;height:23.39px;line-height:23.39px;">+1</div>
<div class="c m" style="left:805.64px;top:678.58px;width:15.19px;height:23.39px;line-height:23.39px;">+2</div>
<div class="c m" style="left:942.35px;top:678.58px;width:15.19px;height:23.39px;line-height:23.39px;">+2</div>
<div class="c m" style="left:1003.11px;top:678.58px;width:18.29px;height:23.39px;line-height:23.39px;">+1</div>
</body></html>
